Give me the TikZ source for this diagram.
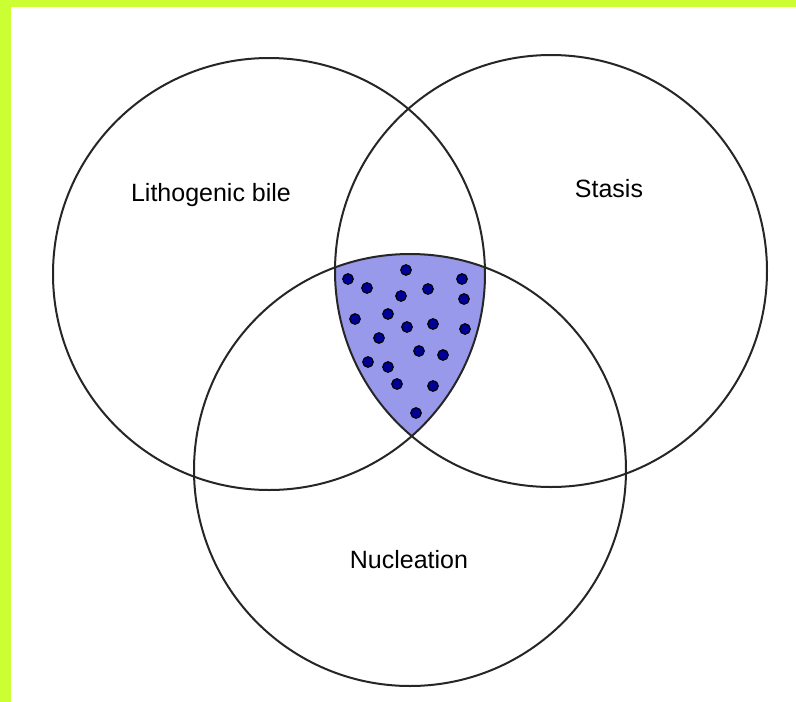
\documentclass[tikz,border=0pt]{standalone}
\usepackage{fontspec}
\setmainfont{Liberation Sans}
\usepackage{xcolor}
\usepackage{tikz}
\usetikzlibrary{shapes,positioning,calc,backgrounds}

\definecolor{frameyellow}{RGB}{204,255,51}
\definecolor{zonefill}{RGB}{153,153,235}
\definecolor{stonedot}{RGB}{0,0,150}

\begin{document}
\begin{tikzpicture}[
    x=1pt, y=-1pt,
    venn/.style={circle, draw=black!85, line width=2pt, minimum size=432pt, inner sep=0pt, outer sep=0pt},
    caption/.style={font=\fontsize{25}{30}\selectfont, anchor=base, inner sep=0pt},
    stone/.style={draw=black, line width=1.1pt, fill=stonedot}
]
    % Frame
    \useasboundingbox (0,0) rectangle (796,702);
    \fill[frameyellow] (0,0) rectangle (796,702);
    \fill[white] (11,7) rectangle (796,702);

    % Common zone (all three)
    \begin{scope}
        \clip (269,274) circle[radius=216];
        \clip (551,271) circle[radius=216];
        \fill[zonefill] (410,470) circle[radius=216];
    \end{scope}

    % Stones
    \foreach \px/\py in {406/270, 348/279, 462/279, 367/288, 428/289, 401/296,
                         464/299, 355/319, 388/314, 407/327, 433/324, 465/329,
                         379/338, 419/351, 443/355, 368/362, 388/367, 397/384,
                         433/386, 416/413}
        \draw[stone] (\px,\py) circle[radius=5.3];

    % Circles
    \node[venn] (bile) at (269,274) {};
    \node[venn] (stasis) at (551,271) {};
    \node[venn] (nucl) at (410,470) {};

    % Labels
    \node[caption] (bilelbl) at (211,201) {Lithogenic bile};
    \node[caption] (stasislbl) at (609,197) {Stasis};
    \node[caption] (nucllbl) at (409,568) {Nucleation};
\end{tikzpicture}
\end{document}
